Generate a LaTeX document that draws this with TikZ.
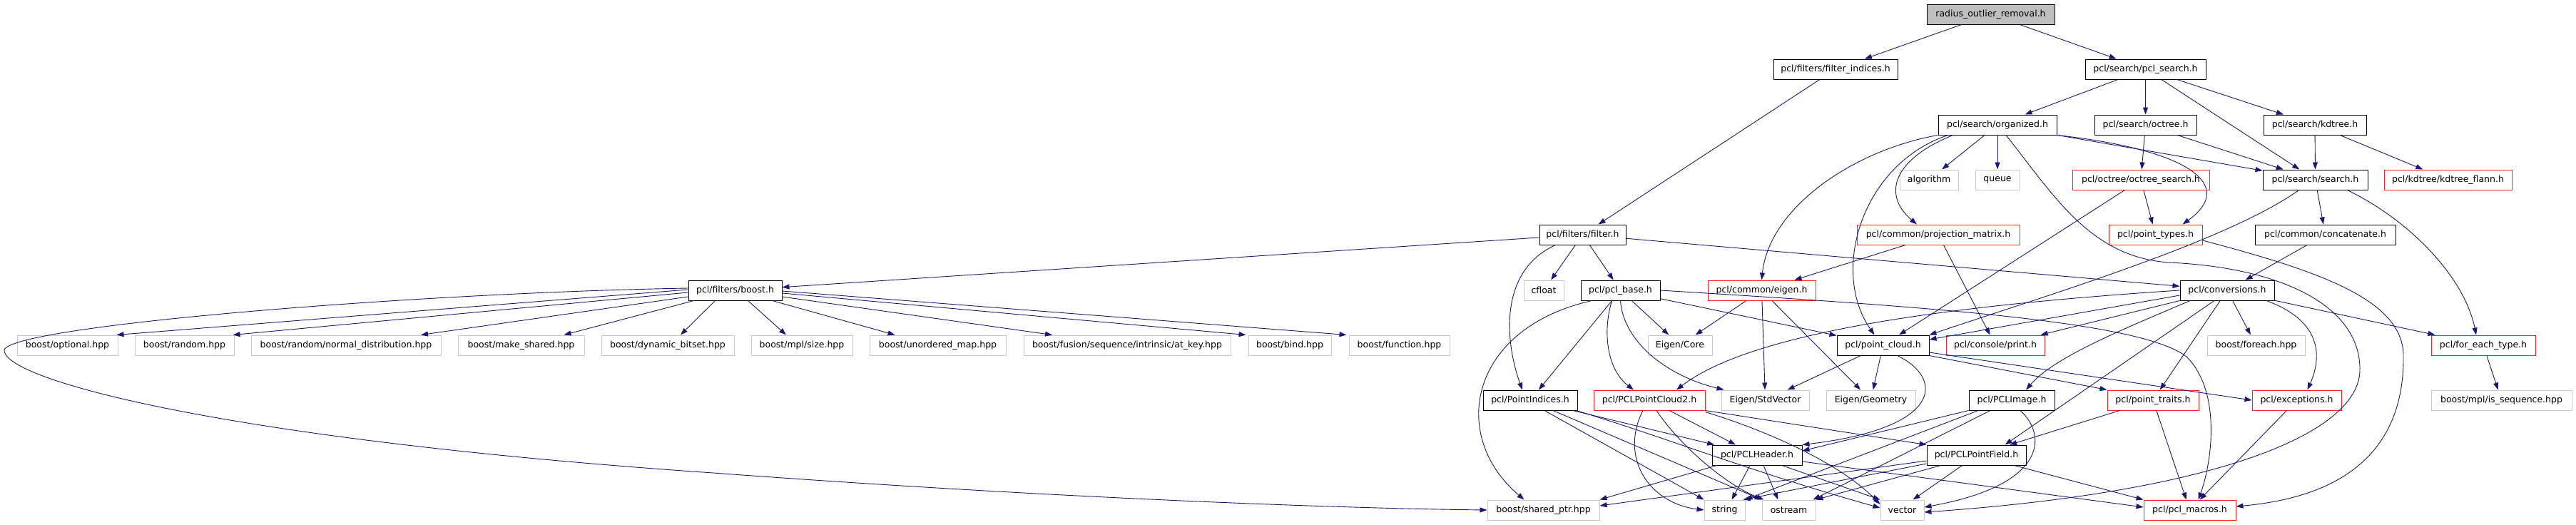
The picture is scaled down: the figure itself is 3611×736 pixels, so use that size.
\documentclass[tikz,border=0pt]{standalone}
\usepackage{fontspec}
\setmainfont{DejaVu Sans}
\usetikzlibrary{arrows.meta,calc}
\definecolor{edgec}{HTML}{191970}
\definecolor{redb}{HTML}{FF2020}
\definecolor{grayb}{HTML}{C8C8C8}
\definecolor{rootf}{HTML}{BFBFBF}
\begin{document}
\begin{tikzpicture}[x=1pt,y=-1pt,
  base/.style={rectangle,inner sep=0pt,minimum height=28pt,fill=white,line width=1pt,
    font=\fontsize{12.5}{14}\selectfont},
  blk/.style={base,draw=black},
  redn/.style={base,draw=redb},
  gryn/.style={base,draw=grayb},
  rootn/.style={base,draw=black,fill=rootf},
  e/.style={draw=edgec,line width=0.9pt,-{Triangle[length=10pt,width=7pt]}}]
\fill[white] (0,0) rectangle (3611,736);
\useasboundingbox (0,0) rectangle (3611,736);
% row 0
\node[rootn,minimum width=179pt] (radius) at (2790.5,20) {radius\_outlier\_removal.h};
% row 1
\node[blk,minimum width=174pt] (filter_indices) at (2573,97) {pcl/filters/filter\_indices.h};
\node[blk,minimum width=169pt] (pcl_search) at (3007.5,97) {pcl/search/pcl\_search.h};
% row 2
\node[blk,minimum width=166pt] (organized) at (2800,175) {pcl/search/organized.h};
\node[blk,minimum width=143pt] (octree) at (3007.5,175) {pcl/search/octree.h};
\node[blk,minimum width=144pt] (kdtree) at (3245,175) {pcl/search/kdtree.h};
% row 3
\node[gryn,minimum width=82pt] (algorithm) at (2704,252) {algorithm};
\node[gryn,minimum width=62pt] (queue) at (2800,252) {queue};
\node[redn,minimum width=192pt] (octree_search) at (3001,252) {pcl/octree/octree\_search.h};
\node[blk,minimum width=147pt] (search) at (3245.5,252) {pcl/search/search.h};
\node[redn,minimum width=179pt] (kdtree_flann) at (3431.5,252) {pcl/kdtree/kdtree\_flann.h};
% row 4
\node[blk,minimum width=121pt] (filter) at (2218.5,329) {pcl/filters/filter.h};
\node[redn,minimum width=228pt] (projection_matrix) at (2717,329) {pcl/common/projection\_matrix.h};
\node[redn,minimum width=131pt] (point_types) at (3021.5,329) {pcl/point\_types.h};
\node[blk,minimum width=197pt] (concatenate) at (3259.5,329) {pcl/common/concatenate.h};
% row 5
\node[blk,minimum width=131pt] (boosth) at (1030.5,407) {pcl/filters/boost.h};
\node[gryn,minimum width=56pt] (cfloat) at (2164,407) {cfloat};
\node[blk,minimum width=111pt] (pcl_base) at (2271.5,407) {pcl/pcl\_base.h};
\node[redn,minimum width=151pt] (eigenh) at (2469.5,407) {pcl/common/eigen.h};
\node[blk,minimum width=132pt] (conversions) at (3122,407) {pcl/conversions.h};
% row 6
\node[gryn,minimum width=141pt] (optional) at (94.5,484) {boost/optional.hpp};
\node[gryn,minimum width=139pt] (random) at (258.5,484) {boost/random.hpp};
\node[gryn,minimum width=266pt] (normal) at (485,484) {boost/random/normal\_distribution.hpp};
\node[gryn,minimum width=177pt] (make_shared) at (730.5,484) {boost/make\_shared.hpp};
\node[gryn,minimum width=186pt] (dynbitset) at (936,484) {boost/dynamic\_bitset.hpp};
\node[gryn,minimum width=142pt] (mplsize) at (1124,484) {boost/mpl/size.hpp};
\node[gryn,minimum width=191pt] (unordmap) at (1314.5,484) {boost/unordered\_map.hpp};
\node[gryn,minimum width=290pt] (atkey) at (1580,484) {boost/fusion/sequence/intrinsic/at\_key.hpp};
\node[gryn,minimum width=116pt] (bind) at (1808,484) {boost/bind.hpp};
\node[gryn,minimum width=141pt] (function) at (1961.5,484) {boost/function.hpp};
\node[gryn,minimum width=90pt] (eigencore) at (2355,484) {Eigen/Core};
\node[blk,minimum width=129pt] (point_cloud) at (2639.5,484) {pcl/point\_cloud.h};
\node[redn,minimum width=138pt] (print) at (2797,484) {pcl/console/print.h};
\node[gryn,minimum width=137pt] (foreach) at (3162.5,484) {boost/foreach.hpp};
\node[redn,minimum width=146pt] (foreachtype) at (3481,484) {pcl/for\_each\_type.h};
% row 7
\node[blk,minimum width=132pt] (pointindices) at (2145,561) {pcl/PointIndices.h};
\node[redn,minimum width=156pt] (pcd2) at (2312,561) {pcl/PCLPointCloud2.h};
\node[gryn,minimum width=123pt] (stdvector) at (2474.5,561) {Eigen/StdVector};
\node[gryn,minimum width=125pt] (geometry) at (2622.5,561) {Eigen/Geometry};
\node[blk,minimum width=120pt] (pclimage) at (2820,561) {pcl/PCLImage.h};
\node[redn,minimum width=128pt] (point_traits) at (3018,561) {pcl/point\_traits.h};
\node[redn,minimum width=125pt] (exceptions) at (3219.5,561) {pcl/exceptions.h};
\node[gryn,minimum width=197pt] (issequence) at (3506.5,561) {boost/mpl/is\_sequence.hpp};
% row 8
\node[blk,minimum width=126pt] (pclheader) at (2463,638) {pcl/PCLHeader.h};
\node[blk,minimum width=139pt] (pointfield) at (2770.5,638) {pcl/PCLPointField.h};
% row 9
\node[gryn,minimum width=157pt] (sharedptr) at (2163.5,715) {boost/shared\_ptr.hpp};
\node[gryn,minimum width=57pt] (string) at (2417.5,715) {string};
\node[gryn,minimum width=75pt] (ostream) at (2507.5,715) {ostream};
\node[gryn,minimum width=61pt] (vector) at (2666.5,715) {vector};
\node[redn,minimum width=129pt] (macros) at (3069.5,715) {pcl/pcl\_macros.h};

% ---------- edges ----------
\draw[e] (radius) -- (filter_indices);
\draw[e] (radius) -- (pcl_search);
\draw[e] (filter_indices) -- (filter);
\draw[e] (pcl_search) -- (organized);
\draw[e] (pcl_search) -- (octree);
\draw[e] (pcl_search) -- (search);
\draw[e] (pcl_search) -- (kdtree);
% organized
\draw[e] (organized) -- (algorithm);
\draw[e] (organized) -- (queue);
\draw[e] (organized) -- (search);
\draw[e] (organized.south east) .. controls (3070,210) and (3135,260) .. ($(point_types.north)+(38,0)$);
\draw[e] (organized.south west) .. controls (2600,210) and (2480,290) .. (eigenh.north);
\draw[e] ($(organized.south west)+(14,0)$) .. controls (2610,230) and (2565,380) .. ($(point_cloud.north)+(-12,0)$);
\draw[e] ($(organized.south west)+(21,0)$) .. controls (2650,225) and (2640,275) .. ($(projection_matrix.north)+(-30,0)$);
\draw[e] ($(organized.south)+(12,0)$) .. controls (2880,275) and (2930,360) .. (3040,368)
   .. controls (3200,375) and (3310,430) .. (3308,520)
   .. controls (3305,610) and (3100,690) .. ($(vector.east)+(0,3)$);
% octree / kdtree
\draw[e] (octree) -- (octree_search);
\draw[e] (octree) -- (search);
\draw[e] (kdtree) -- (search);
\draw[e] (kdtree) -- (kdtree_flann);
\draw[e] (octree_search) -- (point_types);
\draw[e] (octree_search) -- (point_cloud);
% search
\draw[e] (search) -- (concatenate);
\draw[e] ($(search.south)+(-23,0)$) .. controls (3120,340) and (2850,420) .. (point_cloud.north east);
\draw[e] ($(search.south)+(45,0)$) .. controls (3380,310) and (3455,390) .. ($(foreachtype.north)+(-10,0)$);
% projection matrix
\draw[e] (projection_matrix) -- (eigenh);
\draw[e] (projection_matrix) -- (print);
% point types
\draw[e] ($(point_types.east)+(0,8)$) .. controls (3250,380) and (3370,420) .. (3369,500)
   .. controls (3370,620) and (3300,695) .. ($(macros.east)+(0,-5)$);
\draw[e] (concatenate) -- (conversions);
% filter.h
\draw[e] (filter) -- (boosth);
\draw[e] (filter) -- (cfloat);
\draw[e] (filter) -- (pcl_base);
\draw[e] ($(filter.south)+(-38,0)$) .. controls (2100,380) and (2110,480) .. ($(pointindices.north)+(-11,0)$);
\draw[e] (filter) -- (conversions);
% boost.h
\draw[e] ($(boosth.west)+(0,-1)$) -- ($(optional.north east)+(-2,0)$);
\draw[e] ($(boosth.west)+(0,3)$) -- ($(random.north east)+(-2,0)$);
\draw[e] ($(boosth.west)+(0,9)$) -- ($(normal.north)+(105,0)$);
\draw[e] ($(boosth.south west)+(8,0)$) -- ($(make_shared.north)+(60,0)$);
\draw[e] ($(boosth.south)+(-28,0)$) -- ($(dynbitset.north)+(18,0)$);
\draw[e] ($(boosth.south)+(18,0)$) -- ($(mplsize.north)+(-22,0)$);
\draw[e] ($(boosth.south)+(52,0)$) -- ($(unordmap.north)+(-60,0)$);
\draw[e] ($(boosth.east)+(0,9)$) -- ($(atkey.north)+(-105,0)$);
\draw[e] ($(boosth.east)+(0,4)$) -- ($(bind.north west)+(-3,0)$);
\draw[e] ($(boosth.east)+(0,1)$) -- ($(function.north west)+(-3,0)$);
\draw[e] ($(boosth.west)+(0,-3)$) .. controls (600,410) and (25,455) .. (6,490)
   .. controls (0,530) and (300,615) .. (1000,663)
   .. controls (1500,700) and (1900,713) .. (sharedptr.west);
% pcl_base
\draw[e] ($(pcl_base.south west)+(16,0)$) .. controls (2060,460) and (2030,610) .. ($(sharedptr.north)+(-27,0)$);
\draw[e] (pcl_base) -- (pointindices);
\draw[e] ($(pcl_base.south)+(-12,0)$) .. controls (2245,470) and (2255,520) .. ($(pcd2.north)+(-22,0)$);
\draw[e] (pcl_base.south) .. controls (2275,475) and (2330,525) .. ($(stdvector.north west)+(4,0)$);
\draw[e] (pcl_base) -- (eigencore);
\draw[e] (pcl_base) -- (point_cloud);
\draw[e] (pcl_base.east) .. controls (2700,430) and (3000,450) .. (3065,500)
   .. controls (3115,550) and (3100,650) .. ($(macros.north)+(12,0)$);
% eigen.h
\draw[e] (eigenh) -- (eigencore);
\draw[e] (eigenh) -- (stdvector);
\draw[e] (eigenh) -- (geometry);
% conversions
\draw[e] (conversions) -- (foreachtype);
\draw[e] (conversions) -- (foreach);
\draw[e] ($(conversions.south)+(55,0)$) .. controls (3255,450) and (3255,500) .. ($(exceptions.north)+(15,0)$);
\draw[e] (conversions) -- (point_traits);
\draw[e] ($(conversions.south)+(-18,0)$) -- ($(pointfield.north)+(40,0)$);
\draw[e] ($(conversions.south)+(-52,0)$) .. controls (2980,460) and (2880,500) .. ($(pclimage.north)+(20,0)$);
\draw[e] (conversions.south west) -- ($(print.north east)+(-6,0)$);
\draw[e] ($(conversions.west)+(0,7)$) -- ($(point_cloud.east)+(0,-8)$);
\draw[e] (conversions.west) .. controls (2700,430) and (2450,470) .. ($(pcd2.north)+(38,0)$);
% point_cloud
\draw[e] (point_cloud) -- (stdvector);
\draw[e] (point_cloud) -- (geometry);
\draw[e] ($(point_cloud.south)+(20,0)$) .. controls (2725,530) and (2725,600) .. (pclheader.north east);
\draw[e] (point_cloud.south east) -- (point_traits.north west);
\draw[e] ($(point_cloud.east)+(0,10)$) -- (exceptions.west);
% PCLImage
\draw[e] (pclimage.south west) -- ($(pclheader.east)+(0,-6)$);
\draw[e] ($(pclimage.south)+(-47,0)$) -- (string.north east);
\draw[e] ($(pclimage.south)+(-30,0)$) -- ($(ostream.north east)+(-4,0)$);
\draw[e] ($(pclimage.south)+(12,0)$) .. controls (2870,610) and (2870,680) .. ($(vector.east)+(0,-4)$);
% point_traits, exceptions, for_each_type
\draw[e] (point_traits) -- (pointfield);
\draw[e] (point_traits) -- (macros);
\draw[e] (exceptions) -- (macros);
\draw[e] (foreachtype) -- (issequence);
% PCLPointField
\draw[e] ($(pointfield.west)+(0,8)$) -- ($(sharedptr.east)+(0,-6)$);
\draw[e] ($(pointfield.west)+(0,12)$) -- ($(string.north east)+(-3,0)$);
\draw[e] ($(pointfield.south west)+(20,0)$) -- (ostream.north east);
\draw[e] ($(pointfield.south)+(-20,0)$) -- ($(vector.north)+(15,0)$);
\draw[e] ($(pointfield.south east)+(-17,0)$) -- (macros.north west);
% PCLHeader
\draw[e] ($(pclheader.south west)+(7,0)$) -- (sharedptr.north east);
\draw[e] ($(pclheader.south)+(-10,0)$) -- ($(string.north)+(10,0)$);
\draw[e] ($(pclheader.south)+(9,0)$) -- ($(ostream.north)+(-15,0)$);
\draw[e] ($(pclheader.south)+(35,0)$) -- (vector.north west);
\draw[e] ($(pclheader.east)+(0,9)$) -- ($(macros.west)+(0,-4)$);
% PointIndices
\draw[e] ($(pointindices.south)+(20,0)$) -- (string.north west);
\draw[e] ($(pointindices.south)+(32,0)$) -- (ostream.north west);
\draw[e] (pointindices) -- (pclheader);
\draw[e] ($(pointindices.south east)+(-2,0)$) .. controls (2340,615) and (2450,660) .. ($(vector.west)+(0,-3)$);
% PCLPointCloud2
\draw[e] ($(pcd2.south)+(-9,0)$) .. controls (2270,640) and (2310,705) .. (string.west);
\draw[e] ($(pcd2.south)+(10,0)$) .. controls (2355,625) and (2420,680) .. ($(ostream.north west)+(3,0)$);
\draw[e] ($(pcd2.south)+(28,0)$) -- ($(pclheader.north)+(-30,0)$);
\draw[e] (pcd2.south east) -- (pointfield.north west);
\draw[e] ($(pcd2.south east)+(0,2)$) .. controls (2480,605) and (2580,650) .. ($(vector.west)+(0,-8)$);
\end{tikzpicture}
\end{document}
